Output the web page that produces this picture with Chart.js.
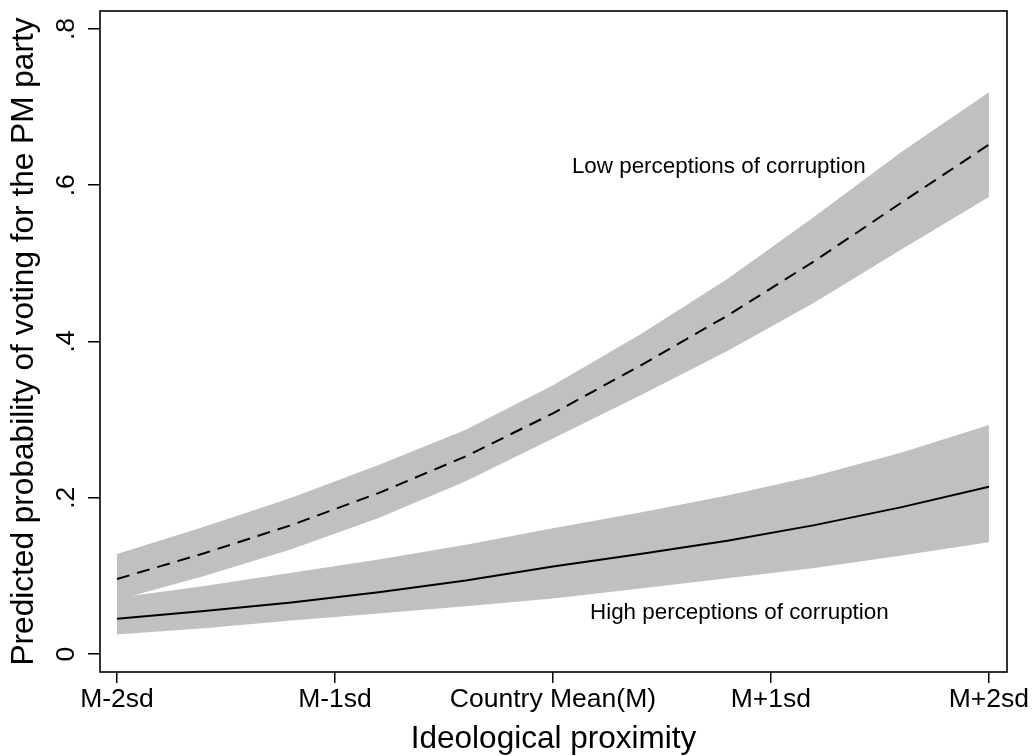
<!DOCTYPE html>
<html>
<head>
<meta charset="utf-8">
<script src="https://cdn.jsdelivr.net/npm/chart.js@4.4.0/dist/chart.umd.min.js"></script>
<style>
html, body { margin: 0; padding: 0; background: #fff; }
</style>
</head>
<body>
<canvas id="canvas" width="1032" height="756"></canvas>
<script>
'use strict';

// ideological proximity, in sd from the country mean
const proximity = [-2, -1.6, -1.2, -0.8, -0.4, 0, 0.4, 0.8, 1.2, 1.6, 2];
const xTickValues = [-2, -1, 0, 1, 2];
const xTickLabels = ['M-2sd', 'M-1sd', 'Country Mean(M)', 'M+1sd', 'M+2sd'];
const yTickValues = [0, 0.2, 0.4, 0.6, 0.8];
const yTickLabels = ['0', '.2', '.4', '.6', '.8'];

// low perceptions of corruption (dashed)
const lowMean  = [0.096, 0.129, 0.165, 0.206, 0.253, 0.308, 0.369, 0.433, 0.503, 0.578, 0.652];
const lowUpper = [0.128, 0.163, 0.200, 0.242, 0.287, 0.344, 0.409, 0.480, 0.560, 0.643, 0.719];
const lowLower = [0.069, 0.100, 0.134, 0.174, 0.221, 0.276, 0.331, 0.388, 0.450, 0.518, 0.585];

// high perceptions of corruption (solid)
const highMean  = [0.045, 0.055, 0.066, 0.079, 0.094, 0.112, 0.128, 0.145, 0.165, 0.188, 0.214];
const highUpper = [0.072, 0.087, 0.104, 0.121, 0.140, 0.161, 0.181, 0.203, 0.228, 0.258, 0.293];
const highLower = [0.025, 0.033, 0.043, 0.052, 0.061, 0.071, 0.084, 0.097, 0.110, 0.126, 0.143];

const notes = [
   {text: 'Low perceptions of corruption', x: 0.087, y: 0.6157},
   {text: 'High perceptions of corruption', x: 0.17, y: 0.0448}
];

const FONT = "'Liberation Sans', Arial, Helvetica, sans-serif";
const BAND = '#c0c0c0';

function points(values) {
   return values.map((v, i) => ({x: proximity[i], y: v}));
}

function band(values, fill) {
   return {
      data: points(values),
      borderWidth: 0,
      borderColor: 'transparent',
      backgroundColor: BAND,
      pointRadius: 0,
      tension: 0,
      fill: fill
   };
}

function line(values, dash) {
   return {
      data: points(values),
      borderColor: '#000',
      borderWidth: 2,
      borderDash: dash,
      pointRadius: 0,
      fill: false,
      tension: 0
   };
}

let boxPlugin = {
   id: 'box',
   afterDraw(chart) {
      let a = chart.chartArea;
      let ctx = chart.ctx;
      ctx.save();
      ctx.strokeStyle = '#000';
      ctx.lineWidth = 1.6;
      ctx.strokeRect(a.left, a.top, a.right - a.left, a.bottom - a.top);
      ctx.restore();
   }
};

let notesPlugin = {
   id: 'notes',
   afterDatasetsDraw(chart) {
      let ctx = chart.ctx;
      let xs = chart.scales.x;
      let ys = chart.scales.y;
      ctx.save();
      ctx.fillStyle = '#000';
      ctx.font = '22.4px ' + FONT;
      ctx.textAlign = 'left';
      ctx.textBaseline = 'alphabetic';
      for (let note of notes) {
         ctx.fillText(note.text, xs.getPixelForValue(note.x), ys.getPixelForValue(note.y));
      }
      ctx.restore();
   }
};

// datasets are painted last-to-first, so the lines go first to sit on top of the bands
let ctx = document.querySelector('#canvas').getContext('2d');
let chart = new Chart(ctx, {
   type: 'line',
   data: {
      datasets: [
         line(lowMean, [13, 8]),
         line(highMean, []),
         band(lowUpper, false),
         band(lowLower, '-1'),
         band(highUpper, false),
         band(highLower, '-1')
      ]
   },
   options: {
      responsive: false,
      animation: false,
      layout: {padding: {top: 11, right: 25, left: 0, bottom: 0}},
      plugins: {
         legend: {display: false},
         tooltip: {enabled: false}
      },
      scales: {
         x: {
            type: 'linear',
            min: -2.078,
            max: 2.083,
            afterFit(scale) {
               scale.height = 84;
               scale.paddingLeft = 0;
               scale.paddingRight = 0;
            },
            afterBuildTicks(scale) { scale.ticks = xTickValues.map(v => ({value: v})); },
            grid: {drawOnChartArea: false, drawTicks: true, tickLength: 11, color: '#000', lineWidth: 1.5},
            border: {display: false},
            ticks: {
               color: '#000',
               font: {family: FONT, size: 26.5},
               padding: 1,
               maxRotation: 0,
               autoSkip: false,
               callback: v => xTickLabels[xTickValues.indexOf(v)]
            },
            title: {
               display: true,
               text: 'Ideological proximity',
               color: '#000',
               font: {family: FONT, size: 31.5},
               padding: {top: 0, bottom: -2}
            }
         },
         y: {
            min: -0.023,
            max: 0.823,
            afterFit(scale) {
               scale.width = 100;
               scale.paddingTop = 0;
               scale.paddingBottom = 0;
            },
            afterBuildTicks(scale) { scale.ticks = yTickValues.map(v => ({value: v})); },
            grid: {drawOnChartArea: false, drawTicks: true, tickLength: 12, color: '#000', lineWidth: 1.5},
            border: {display: false},
            ticks: {
               color: '#000',
               font: {family: FONT, size: 26.5},
               padding: 10,
               minRotation: 90,
               maxRotation: 90,
               crossAlign: 'center',
               autoSkip: false,
               callback: v => yTickLabels[yTickValues.indexOf(v)]
            },
            title: {
               display: true,
               text: 'Predicted probability of voting for the PM party',
               color: '#000',
               font: {family: FONT, size: 31.6},
               padding: {top: 5, bottom: 0}
            }
         }
      }
   },
   plugins: [boxPlugin, notesPlugin]
});
</script>
</body>
</html>
